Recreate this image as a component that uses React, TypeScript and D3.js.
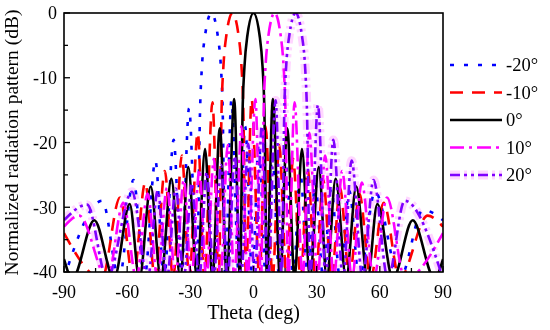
import * as d3 from 'd3';

// steering angles in the legend
const LABELS = ['-20°', '-10°', '0°', '10°', '20°'];
const THETA_TICKS = [-90, -60, -30, 0, 30, 60, 90];
const DB_TICKS = [0, -10, -20, -30, -40];

// [theta (deg), normalized pattern (dB)], peaks and nulls
const beamM20: [number, number][] = [
  [-90, -41], [-71.8, -29], [-63.8, -41], [-57, -25.8], [-51.8, -41], [-46.6, -22.8], [-42.5, -41],
  [-37.9, -19.6], [-34.3, -41], [-30.6, -14.7], [-26.9, -41], [-25.3, -14], [-24.5, -8.3], [-23.1, -3.7],
  [-20, 0], [-16.9, -3.7], [-15.5, -8.3], [-14.7, -14], [-13.4, -41], [-10.5, -13.5], [-6.9, -41],
  [-4, -17.5], [-0.5, -41], [2.5, -20.2], [5.9, -41], [8.9, -22.1], [12.3, -41], [15.4, -23.5],
  [18.9, -41], [22.2, -24.6], [25.8, -41], [29.3, -26.3], [33.1, -41], [36.9, -27.1], [41.1, -41],
  [45.5, -27.5], [50.2, -41], [57.7, -27.6], [69.5, -41], [80.5, -30.4], [90, -32],
];

const beamM10: [number, number][] = [
  [-90, -34], [-72, -41], [-63.4, -28.5], [-57.1, -41], [-51.4, -26.2], [-46.8, -41], [-42.1, -24.4],
  [-38.2, -41], [-34, -22], [-30.5, -41], [-26.5, -18.5], [-23.3, -41], [-19.5, -13.8], [-16.5, -41],
  [-15.1, -14], [-14.3, -8.3], [-13, -3.7], [-10, 0], [-7, -3.7], [-5.7, -8.3], [-4.9, -14],
  [-3.6, -41], [-0.9, -13.3], [2.8, -41], [5.7, -17.5], [9.1, -41], [12.2, -20.4], [15.7, -41],
  [18.8, -22.5], [22.4, -41], [25.7, -24.2], [29.5, -41], [33.1, -25.8], [37.1, -41], [41.1, -27],
  [45.6, -41], [50.3, -27.9], [55.6, -41], [61.8, -29.3], [69.4, -41], [82.7, -31.3], [90, -33],
];

const beam0: [number, number][] = [
  [-90, -38], [-86, -41], [-75.6, -32], [-66.2, -41], [-58.8, -29.5], [-54.2, -41], [-48.8, -26.8],
  [-44, -41], [-39, -25.6], [-34.8, -41], [-31, -23.8], [-26.8, -41], [-23, -21], [-19.5, -41],
  [-16, -17.8], [-12.6, -41], [-9.2, -13.3], [-6.4, -41], [-5.1, -14], [-4.3, -8.3], [-3, -3.7],
  [0, 0], [3, -3.7], [4.3, -8.3], [5.1, -14], [6.4, -41], [9.2, -13.3], [12.6, -41], [16, -17.8],
  [19.5, -41], [23, -21], [26.8, -41], [31, -23.8], [34.8, -41], [39, -25.6], [44, -41], [48.8, -26.8],
  [54.2, -41], [58.8, -29.5], [66.2, -41], [75.6, -32], [86, -41], [90, -38],
];

const beamP10: [number, number][] = [
  [-90, -33], [-82.7, -31.3], [-69.4, -41], [-61.8, -29.3], [-55.6, -41], [-50.3, -27.9], [-45.6, -41],
  [-41.1, -27], [-37.1, -41], [-33.1, -25.8], [-29.5, -41], [-25.7, -24.2], [-22.4, -41], [-18.8, -22.5],
  [-15.7, -41], [-12.2, -20.4], [-9.1, -41], [-5.7, -17.5], [-2.8, -41], [0.9, -13.3], [3.6, -41],
  [4.9, -14], [5.7, -8.3], [7, -3.7], [10, 0], [13, -3.7], [14.3, -8.3], [15.1, -14], [16.5, -41],
  [19.5, -13.8], [23.3, -41], [26.5, -18.5], [30.5, -41], [34, -22], [38.2, -41], [42.1, -24.4],
  [46.8, -41], [51.4, -26.2], [57.1, -41], [63.4, -28.5], [72, -41], [90, -34],
];

const beamP20: [number, number][] = [
  [-90, -32], [-79, -29.6], [-69.5, -41], [-57.7, -27.6], [-50.2, -41], [-45.5, -27.5], [-41.1, -41],
  [-36.9, -27.1], [-33.1, -41], [-29.3, -26.3], [-25.8, -41], [-22.2, -24.6], [-18.9, -41], [-15.4, -23.5],
  [-12.3, -41], [-8.9, -22.1], [-5.9, -41], [-2.5, -20.2], [0.5, -41], [4, -17.5], [6.9, -41],
  [10.5, -13.5], [13.4, -41], [14.7, -14], [15.5, -8.3], [16.9, -3.7], [20, 0], [23.1, -3.7],
  [24.5, -8.3], [25.3, -14], [26.9, -41], [30.6, -14.2], [34.3, -41], [37.9, -19.6], [42.5, -41],
  [46.6, -22.8], [51.8, -41], [57, -25.8], [63.8, -41], [71.8, -29], [90, -41],
];

const SERIES = [
  { label: LABELS[0], data: beamM20, color: '#0000ff', dash: '4,10' },
  { label: LABELS[1], data: beamM10, color: '#ff0000', dash: '13,9' },
  { label: LABELS[2], data: beam0, color: '#000000', dash: '' },
  { label: LABELS[3], data: beamP10, color: '#ff00ff', dash: '14,5,3,5' },
  { label: LABELS[4], data: beamP20, color: '#7f00ff', dash: '10,4,3,4,3,4' },
];

const FONT = '"Liberation Serif", "Times New Roman", serif';

export default function App() {
  const width = 550;
  const height = 330;
  const margin = { top: 13, right: 107, bottom: 58, left: 64 };
  const innerW = width - margin.left - margin.right;
  const innerH = height - margin.top - margin.bottom;

  const x = d3.scaleLinear().domain([-90, 90]).range([0, innerW]);
  const y = d3.scaleLinear().domain([-40, 0]).range([innerH, 0]);
  const line = d3
    .line<[number, number]>()
    .x((d) => x(d[0]))
    .y((d) => y(d[1]))
    .curve(d3.curveMonotoneX);

  const xMinor = d3.range(-90, 91, 15);
  const yMinor = d3.range(-40, 1, 5);
  const halo = SERIES[4];

  return (
    <>
      <style>{'body{margin:0}'}</style>
      <svg width={width} height={height} style={{ display: 'block', background: '#fff' }}>
        <defs>
          <clipPath id="plot-clip">
            <rect x={0} y={0} width={innerW} height={innerH} />
          </clipPath>
        </defs>
        <g transform={`translate(${margin.left},${margin.top})`}>
          <g clipPath="url(#plot-clip)" fill="none">
            <path d={line(halo.data) ?? ''} stroke="#ffd6ff" strokeWidth={9} strokeDasharray={halo.dash} style={{ mixBlendMode: 'multiply' }} />
            {SERIES.map((s) => (
              <path key={s.label} d={line(s.data) ?? ''} stroke={s.color} strokeWidth={2.6} strokeDasharray={s.dash || undefined} />
            ))}
          </g>

          {/* inward ticks */}
          {xMinor.map((t) => (
            <line key={`xt${t}`} x1={x(t)} x2={x(t)} y1={innerH} y2={innerH - (t % 30 === 0 ? 6 : 4)} stroke="#000" strokeWidth={1.3} />
          ))}
          {yMinor.map((t) => (
            <line key={`yt${t}`} x1={0} x2={t % 10 === 0 ? 6 : 4} y1={y(t)} y2={y(t)} stroke="#000" strokeWidth={1.3} />
          ))}
          <rect x={0} y={0} width={innerW} height={innerH} fill="none" stroke="#000" strokeWidth={1.6} />

          {THETA_TICKS.map((t) => (
            <text key={`xl${t}`} x={x(t)} y={innerH + 26} textAnchor="middle" fontFamily={FONT} fontSize={18}>
              {t}
            </text>
          ))}
          {DB_TICKS.map((t) => (
            <text key={`yl${t}`} x={-7} y={y(t)} dy="0.35em" textAnchor="end" fontFamily={FONT} fontSize={18}>
              {t}
            </text>
          ))}
          <text x={innerW / 2} y={innerH + 47} textAnchor="middle" fontFamily={FONT} fontSize={20}>
            Theta (deg)
          </text>
          <text
            transform={`translate(${-46},${innerH / 2}) rotate(-90)`}
            textAnchor="middle"
            fontFamily={FONT}
            fontSize={19.5}
          >
            Normalized radiation pattern (dB)
          </text>
        </g>

        {/* legend */}
        <g transform="translate(450,65)">
          {SERIES.map((s, i) => (
            <g key={`lg${s.label}`} transform={`translate(0,${i * 27.5})`}>
              {i === 4 && <line x1={0} x2={52} y1={0} y2={0} stroke="#ffd6ff" strokeWidth={9} strokeDasharray={s.dash} />}
              <line x1={0} x2={52} y1={0} y2={0} stroke={s.color} strokeWidth={2.6} strokeDasharray={s.dash || undefined} />
              <text x={56} y={0} dy="0.35em" fontFamily={FONT} fontSize={18.5}>
                {s.label}
              </text>
            </g>
          ))}
        </g>
      </svg>
    </>
  );
}
